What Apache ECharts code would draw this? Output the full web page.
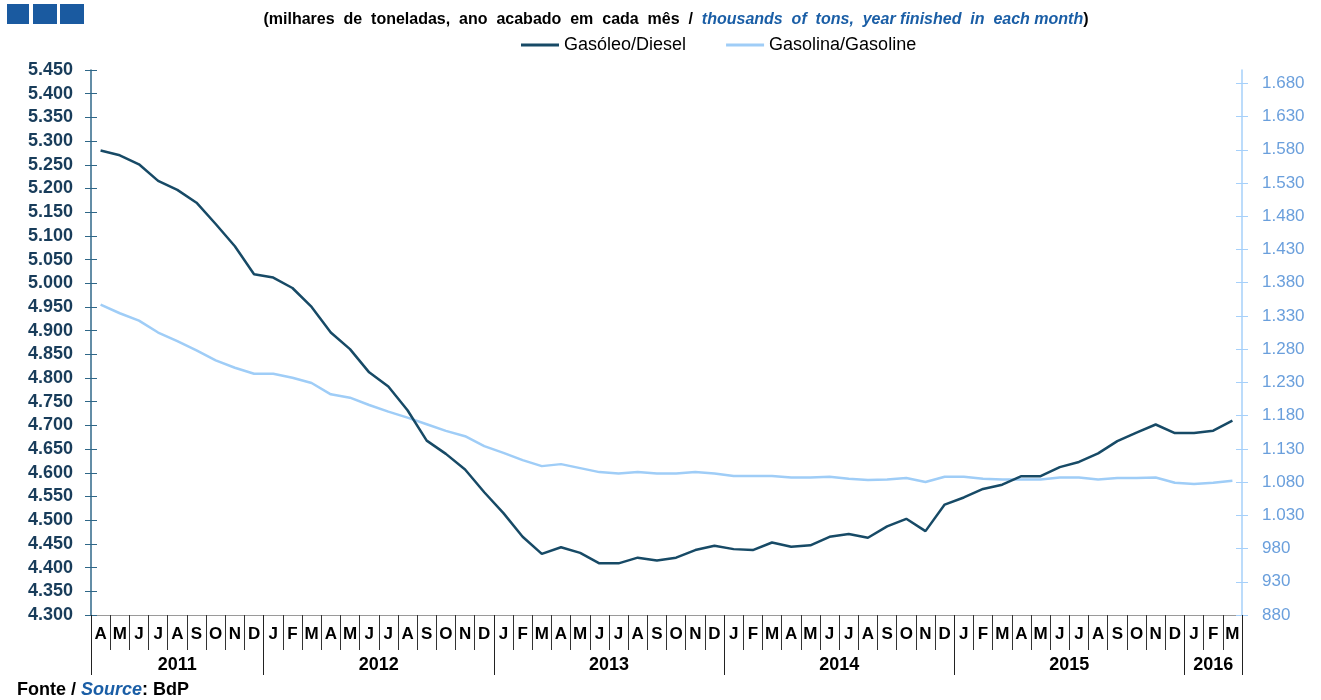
<!DOCTYPE html>
<html>
<head>
<meta charset="utf-8">
<script src="https://cdn.jsdelivr.net/npm/echarts@6/dist/echarts.min.js"></script>
<style>
  html, body { margin: 0; padding: 0; background: #fff; }
  #chart { width: 1321px; height: 700px; }
</style>
</head>
<body>
<div id="chart"></div>
<script>
// Monthly categories, April 2011 to March 2016
const months = ['A','M','J','J','A','S','O','N','D',
  'J','F','M','A','M','J','J','A','S','O','N','D',
  'J','F','M','A','M','J','J','A','S','O','N','D',
  'J','F','M','A','M','J','J','A','S','O','N','D',
  'J','F','M','A','M','J','J','A','S','O','N','D',
  'J','F','M'];
const years = ['2011','2012','2013','2014','2015','2016'];
const monthsPerYear = [9, 12, 12, 12, 12, 3];

// Gasóleo / Diesel (left axis), thousands of tons, 12-month total
const diesel = [5280,5270,5251,5216,5197,5170,5125,5078,5019,
  5012,4990,4950,4896,4861,4812,4782,4732,4668,4640,4607,4559,
  4515,4465,4429,4443,4431,4409,4409,4421,4415,4421,4437,4446,
  4439,4437,4453,4444,4447,4465,4471,4463,4487,4503,4477,4533,
  4548,4566,4575,4593,4593,4612,4623,4641,4667,4685,4702,4684,
  4684,4689,4710];

// Gasolina / Gasoline (right axis)
const gasoline = [1347,1334,1323,1305,1292,1278,1263,1252,1243,
  1243,1237,1229,1212,1207,1196,1186,1177,1167,1157,1149,1134,
  1124,1113,1104,1107,1101,1095,1093,1095,1093,1093,1095,1093,
  1089,1089,1089,1087,1087,1088,1085,1083,1084,1086,1080,1088,
  1088,1085,1084,1084,1084,1087,1087,1084,1086,1086,1087,1079,
  1077,1079,1082];

const rightTicks = [880,930,980,1030,1080,1130,1180,1230,1280,1330,1380,1430,1480,1530,1580,1630,1680];

// Year boundaries and centres along the month axis
const yearEdges = [0];
const yearCentres = [];
monthsPerYear.forEach(n => {
  const start = yearEdges[yearEdges.length - 1];
  yearCentres.push(start + n / 2);
  yearEdges.push(start + n);
});

const fmtThousands = v => {
  const s = String(Math.round(v));
  return s.replace(/\B(?=(\d{3})+(?!\d))/g, '.');
};

const DIESEL = '#174a66';
const GASOLINE = '#9fcdf7';
const FONT = '"Liberation Sans", Arial, sans-serif';

const chart = echarts.init(document.getElementById('chart'), null, { renderer: 'canvas' });

chart.setOption({
  animation: false,
  textStyle: { fontFamily: FONT },
  title: {
    left: 671,
    textAlign: 'center',
    top: 7,
    text: '{a|(milhares  de  toneladas,  ano  acabado  em  cada  mês  /  }{b|thousands  of  tons,  year finished  in  each month}{a|)}',
    textStyle: {
      rich: {
        a: { fontFamily: FONT, fontSize: 16, fontWeight: 'bold', color: '#000' },
        b: { fontFamily: FONT, fontSize: 16, fontWeight: 'bold', fontStyle: 'italic', color: '#1a5ea6' }
      }
    }
  },
  legend: {
    top: 31,
    left: 516,
    itemWidth: 38,
    itemHeight: 3,
    itemGap: 40,
    icon: 'rect',
    textStyle: { fontFamily: FONT, fontSize: 18, color: '#000' },
    data: [
      { name: 'Gasóleo/Diesel', itemStyle: { color: DIESEL } },
      { name: 'Gasolina/Gasoline', itemStyle: { color: GASOLINE } }
    ]
  },
  grid: { left: 91, right: 79, top: 70, bottom: 85 },
  xAxis: [
    {
      type: 'category',
      data: months,
      boundaryGap: true,
      axisLine: { lineStyle: { color: '#9a9a9a', width: 1 } },
      axisTick: { show: true, interval: 0, length: 35, lineStyle: { color: '#333', width: 1 } },
      axisLabel: { interval: 0, margin: 11, fontFamily: FONT, fontSize: 17, fontWeight: 'bold', color: '#000' },
      splitLine: { show: false }
    },
    {
      type: 'value',
      min: 0,
      max: months.length,
      position: 'bottom',
      axisLine: { show: false },
      axisTick: { show: true, length: 60, customValues: yearEdges, lineStyle: { color: '#222', width: 1 } },
      axisLabel: {
        customValues: yearCentres,
        margin: 41,
        fontFamily: FONT, fontSize: 18, fontWeight: 'bold', color: '#000',
        formatter: v => {
          const i = yearCentres.findIndex(c => Math.abs(c - v) < 1e-6);
          return i >= 0 ? years[i] : '';
        }
      },
      splitLine: { show: false }
    }
  ],
  yAxis: [
    {
      type: 'value',
      position: 'left',
      min: 4300, max: 5450, interval: 50,
      axisLine: { show: true, lineStyle: { color: '#2f6788', width: 1.5 } },
      axisTick: { show: true, length: 6, lineStyle: { color: '#2f6788' } },
      axisLabel: { margin: 18, fontFamily: FONT, fontSize: 18, fontWeight: 'bold', color: '#183c5a', formatter: fmtThousands },
      splitLine: { show: false }
    },
    {
      type: 'value',
      position: 'right',
      min: 880, max: 1700,
      axisLine: { show: true, lineStyle: { color: '#a6d0fa', width: 1.5 } },
      axisTick: { show: true, length: 6, customValues: rightTicks, lineStyle: { color: '#a6d0fa' } },
      axisLabel: { margin: 20, customValues: rightTicks, fontFamily: FONT, fontSize: 17, color: '#6a9fdc', formatter: fmtThousands },
      splitLine: { show: false }
    },
    {
      // inner half of the left tick marks
      type: 'value',
      position: 'left',
      min: 4300, max: 5450, interval: 50,
      axisLine: { show: false },
      axisTick: { show: true, inside: true, length: 6, lineStyle: { color: '#2f6788' } },
      axisLabel: { show: false },
      splitLine: { show: false }
    },
    {
      // inner half of the right tick marks
      type: 'value',
      position: 'right',
      min: 880, max: 1700,
      axisLine: { show: false },
      axisTick: { show: true, inside: true, length: 6, customValues: rightTicks, lineStyle: { color: '#a6d0fa' } },
      axisLabel: { show: false },
      splitLine: { show: false }
    }
  ],
  series: [
    {
      name: 'Gasóleo/Diesel',
      type: 'line',
      xAxisIndex: 0,
      yAxisIndex: 0,
      data: diesel,
      showSymbol: false,
      lineStyle: { color: DIESEL, width: 2.5 },
      itemStyle: { color: DIESEL },
      z: 3
    },
    {
      name: 'Gasolina/Gasoline',
      type: 'line',
      xAxisIndex: 0,
      yAxisIndex: 1,
      data: gasoline,
      showSymbol: false,
      lineStyle: { color: GASOLINE, width: 2.5 },
      itemStyle: { color: GASOLINE },
      z: 2
    }
  ],
  graphic: [
    { type: 'rect', left: 7, top: 4, shape: { width: 22, height: 20 }, style: { fill: '#1a5aa0' } },
    { type: 'rect', left: 33, top: 4, shape: { width: 24, height: 20 }, style: { fill: '#1a5aa0' } },
    { type: 'rect', left: 60, top: 4, shape: { width: 24, height: 20 }, style: { fill: '#1a5aa0' } },
    {
      type: 'text',
      left: 17,
      top: 681,
      style: {
        text: '{a|Fonte / }{b|Source}{a|: BdP}',
        rich: {
          a: { fontFamily: FONT, fontSize: 18, fontWeight: 'bold', fill: '#000' },
          b: { fontFamily: FONT, fontSize: 18, fontWeight: 'bold', fontStyle: 'italic', fill: '#1a5ea6' }
        }
      }
    }
  ]
});
</script>
</body>
</html>
